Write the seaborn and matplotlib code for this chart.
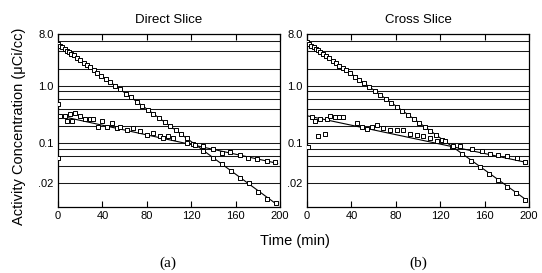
import numpy as np
import pandas as pd
import seaborn as sns
import matplotlib.pyplot as plt
from matplotlib.ticker import NullLocator

# ---- data ----
# fast component (squares along the steep line), same sampling times in both slices
t_fast = [0, 2, 4, 6, 8, 10, 12, 14, 17, 20, 23, 26, 29, 32, 35, 39, 43, 47, 51, 56,
          61, 66, 71, 76, 81, 86, 91, 96, 101, 106, 111, 116, 122, 131, 140, 148, 156,
          164, 172, 180, 188, 196]
direct_fast = [5.3, 5.0, 4.8, 4.4, 4.1, 3.9, 3.6, 3.4, 3.1, 2.8, 2.5, 2.3, 2.1, 1.9, 1.7,
               1.5, 1.3, 1.17, 1.0, 0.87, 0.73, 0.63, 0.52, 0.45, 0.38, 0.32, 0.275, 0.235,
               0.2, 0.168, 0.142, 0.121, 0.096, 0.074, 0.055, 0.043, 0.033, 0.025, 0.020,
               0.0141, 0.0106, 0.009]
cross_fast = [5.7, 5.4, 5.0, 4.7, 4.4, 4.2, 3.9, 3.6, 3.3, 3.0, 2.7, 2.5, 2.25, 2.05, 1.85,
              1.65, 1.45, 1.27, 1.12, 0.95, 0.81, 0.69, 0.58, 0.5, 0.42, 0.36, 0.31, 0.26,
              0.225, 0.19, 0.16, 0.138, 0.113, 0.086, 0.0647, 0.049, 0.038, 0.029, 0.023,
              0.0175, 0.0135, 0.0102]

# Direct slice, slow component (open squares, scattered)
t_direct_slow = [0, 0, 1.8, 6.3, 7.8, 10.8, 12.3, 15.3, 19.8, 24.3, 28.8, 31.8, 36.3, 39.4,
                 43.9, 48.4, 52.9, 55.9, 61.9, 67.8, 73.9, 79.9, 85.9, 91.9, 94.9, 99.4,
                 104, 116, 123, 131, 140, 147.5, 155, 164, 171, 179, 188, 195.5]
direct_slow = [0.48, 0.055, 0.292, 0.303, 0.239, 0.321, 0.239, 0.334, 0.292, 0.266, 0.263,
               0.263, 0.195, 0.245, 0.195, 0.224, 0.183, 0.195, 0.171, 0.183, 0.16, 0.14,
               0.15, 0.131, 0.123, 0.131, 0.123, 0.1, 0.0935, 0.0876, 0.08, 0.0672, 0.07,
               0.0613, 0.0553, 0.052, 0.049, 0.046]

# Cross slice, slow component
t_cross_slow = [1, 4.2, 7.2, 10.2, 11.7, 16.2, 17.7, 20.7, 25.2, 29.1, 32.7, 44.7, 49.2,
                53.7, 58.2, 62.7, 68.7, 74.8, 80.8, 86.8, 92.8, 98.7, 104.7, 110.8, 116.8,
                124.3, 131.8, 137.8, 148.4, 157.4, 164.9, 172.4, 180, 189, 196.5]
cross_slow = [0.087, 0.28, 0.239, 0.131, 0.266, 0.143, 0.266, 0.292, 0.28, 0.28, 0.28,
              0.224, 0.195, 0.178, 0.19, 0.206, 0.183, 0.171, 0.168, 0.168, 0.143, 0.137,
              0.131, 0.123, 0.107, 0.107, 0.0876, 0.0876, 0.078, 0.073, 0.0647, 0.0613,
              0.059, 0.054, 0.0478]

# fitted lines (end points)
t_fit = [0, 198]
direct_fast_fit = [5.4, 0.0083]
direct_slow_fit = [0.303, 0.0443]
cross_fast_fit = [5.8, 0.0101]
cross_slow_fit = [0.30, 0.046]

grid_vals = [8, 6, 4, 2, 1, 0.8, 0.6, 0.4, 0.2, 0.1, 0.08, 0.06, 0.04, 0.02]
ytick_vals = [8, 1, 0.1, 0.02]
ytick_labels = ['8.0', '1.0', '0.1', '.02']
xtick_vals = [0, 40, 80, 120, 160, 200]

sns.set_theme(style='ticks')
plt.rcParams['font.family'] = ['Liberation Sans', 'DejaVu Sans']
plt.rcParams['text.color'] = 'black'
plt.rcParams['xtick.color'] = 'black'
plt.rcParams['ytick.color'] = 'black'

fig = plt.figure(figsize=(5.42, 2.73), dpi=100)
ax_a = fig.add_axes([58 / 542, 1 - 207 / 273, 222 / 542, 173 / 273])
ax_b = fig.add_axes([307 / 542, 1 - 207 / 273, 222 / 542, 173 / 273])

panels = [
    (ax_a, 'Direct Slice', t_fast, direct_fast, t_direct_slow, direct_slow,
     direct_fast_fit, direct_slow_fit),
    (ax_b, 'Cross Slice', t_fast, cross_fast, t_cross_slow, cross_slow,
     cross_fast_fit, cross_slow_fit),
]

for ax, title, tf, yf, ts, ys, fit_f, fit_s in panels:
    ax.set_yscale('log')
    for g in grid_vals:
        ax.axhline(g, color='0.1', lw=0.75, zorder=1)
    sns.lineplot(x=t_fit, y=fit_f, ax=ax, color='black', lw=0.8, zorder=2)
    sns.lineplot(x=t_fit, y=fit_s, ax=ax, color='black', lw=0.8, zorder=2)
    sns.scatterplot(x=tf, y=yf, ax=ax, marker='s', s=5, facecolor='white',
                    edgecolor='black', linewidth=0.7, zorder=3)
    sns.scatterplot(x=ts, y=ys, ax=ax, marker='s', s=5, facecolor='white',
                    edgecolor='black', linewidth=0.7, zorder=3)
    ax.set_xlim(0, 200)
    ax.set_ylim(0.0077, 8.0)
    ax.set_yticks(ytick_vals)
    ax.set_yticklabels(ytick_labels)
    ax.yaxis.set_minor_locator(NullLocator())
    ax.set_xticks(xtick_vals)
    ax.tick_params(axis='x', direction='in', length=4, width=0.8, labelsize=8,
                   top=True, pad=3)
    ax.tick_params(axis='y', length=0, labelsize=8, pad=3)
    for sp in ax.spines.values():
        sp.set_visible(True)
        sp.set_linewidth(0.9)
        sp.set_color('black')
    ax.set_title(title, fontsize=9.5, pad=8, color='black')
    ax.set_xlabel('')
    ax.set_ylabel('')

fig.text(19 / 542, 1 - 126 / 273, 'Activity Concentration (\u03bcCi/cc)', rotation=90,
         ha='center', va='center', fontsize=10.5)
fig.text(295 / 542, 1 - 241 / 273, 'Time (min)', ha='center', va='center', fontsize=10.5)
fig.text(168 / 542, 1 - 263 / 273, '(a)', ha='center', va='center', fontsize=11,
         family='Liberation Serif')
fig.text(418 / 542, 1 - 263 / 273, '(b)', ha='center', va='center', fontsize=11,
         family='Liberation Serif')

fig.savefig('out.png', dpi=100)
